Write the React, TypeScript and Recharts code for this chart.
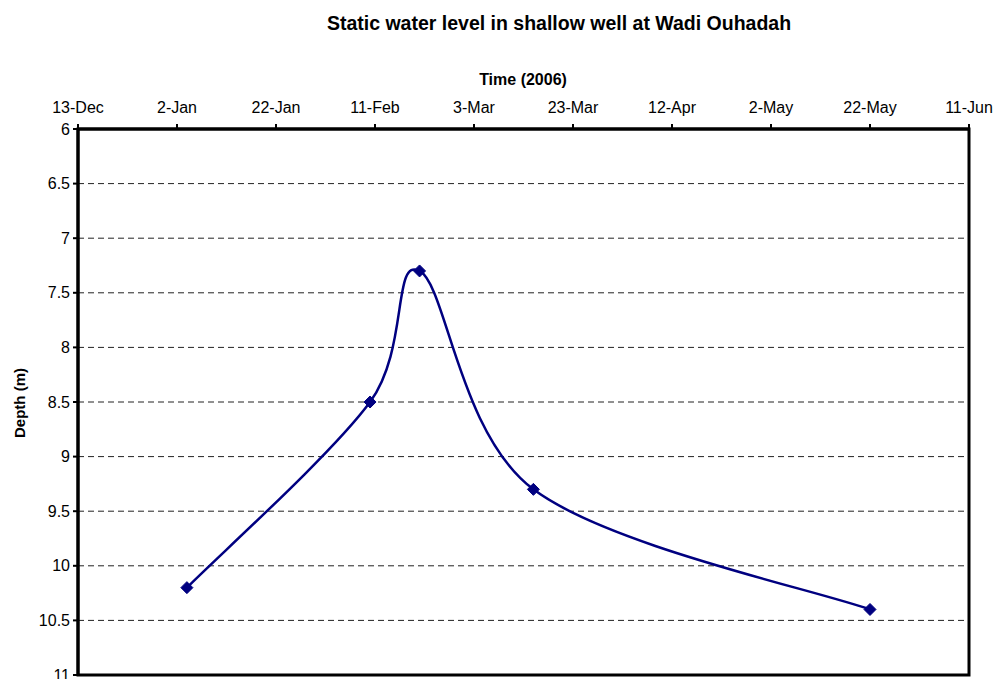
import { CartesianGrid, Line, LineChart, ReferenceArea, XAxis, YAxis } from 'recharts';

// measurement dates and static water depth (m)
const sampleDates = ['2006-01-04', '2006-02-10', '2006-02-20', '2006-03-15', '2006-05-22'];
const depths = [10.2, 8.5, 7.3, 9.3, 10.4];

const tickDates = [
    '2005-12-13', '2006-01-02', '2006-01-22', '2006-02-11', '2006-03-03',
    '2006-03-23', '2006-04-12', '2006-05-02', '2006-05-22', '2006-06-11'
];
const tickLabels = ['13-Dec', '2-Jan', '22-Jan', '11-Feb', '3-Mar', '23-Mar', '12-Apr', '2-May', '22-May', '11-Jun'];
const depthTicks = [6, 6.5, 7, 7.5, 8, 8.5, 9, 9.5, 10, 10.5, 11];

const toTime = (d: string) => Date.parse(d + 'T00:00:00Z');

const data = sampleDates.map((d, i) => ({ t: toTime(d), depth: depths[i] }));
const xTicks = tickDates.map(toTime);

const FONT = '"Liberation Sans", Arial, sans-serif';
const NAVY = '#000080';

// smoothed line like Excel's (Catmull-Rom through the points)
const smoothCurve = (context: any) => {
    let pts: [number, number][] = [];
    return {
        areaStart() {},
        areaEnd() {},
        lineStart() { pts = []; },
        lineEnd() {
            const n = pts.length;
            if (!n) return;
            context.moveTo(pts[0][0], pts[0][1]);
            for (let i = 0; i < n - 1; i++) {
                const p0 = pts[i - 1] || pts[i];
                const p1 = pts[i];
                const p2 = pts[i + 1];
                const p3 = pts[i + 2] || p2;
                context.bezierCurveTo(
                    p1[0] + (p2[0] - p0[0]) / 6, p1[1] + (p2[1] - p0[1]) / 6,
                    p2[0] - (p3[0] - p1[0]) / 6, p2[1] - (p3[1] - p1[1]) / 6,
                    p2[0], p2[1]
                );
            }
        },
        point(x: number, y: number) { pts.push([+x, +y]); }
    };
};

const Diamond = (props: any) => {
    const { cx, cy, index } = props;
    const s = 6;
    return (
        <polygon
            key={`d-${index}`}
            points={`${cx},${cy - s} ${cx + s},${cy} ${cx},${cy + s} ${cx - s},${cy}`}
            fill={NAVY}
            stroke={NAVY}
        />
    );
};

const textStyle = (x: number, y: number, size: number, rotate = false): React.CSSProperties => ({
    position: 'absolute',
    left: x,
    top: y,
    transform: `translate(-50%, -50%)${rotate ? ' rotate(-90deg)' : ''}`,
    fontFamily: FONT,
    fontSize: size,
    fontWeight: 'bold',
    whiteSpace: 'nowrap',
    color: '#000'
});

export default function App() {
    const tickFmt = (v: number) => tickLabels[xTicks.indexOf(v)] ?? '';
    return (
        <div style={{ position: 'absolute', left: 0, top: 0, width: 995, height: 679, background: '#fff' }}>
            <LineChart width={995} height={679} data={data} margin={{ top: 0, right: 26, bottom: 4, left: 0 }}>
                <CartesianGrid horizontal vertical={false} stroke="#222" strokeDasharray="6 4" />
                <XAxis
                    dataKey="t"
                    type="number"
                    orientation="top"
                    domain={[xTicks[0], xTicks[xTicks.length - 1]]}
                    ticks={xTicks}
                    tickFormatter={tickFmt}
                    height={129}
                    tickSize={5}
                    tickMargin={11}
                    axisLine={{ stroke: '#000', strokeWidth: 3 }}
                    tickLine={{ stroke: '#000', strokeWidth: 2 }}
                    tick={{ fill: '#000', fontSize: 16, fontFamily: FONT }}
                    interval={0}
                />
                <YAxis
                    dataKey="depth"
                    type="number"
                    reversed
                    domain={[6, 11]}
                    ticks={depthTicks}
                    width={78}
                    tickSize={5}
                    tickMargin={3}
                    axisLine={{ stroke: '#000', strokeWidth: 3 }}
                    tickLine={{ stroke: '#000', strokeWidth: 2 }}
                    tick={{ fill: '#000', fontSize: 16, fontFamily: FONT }}
                    interval={0}
                />
                <ReferenceArea
                    x1={xTicks[0]}
                    x2={xTicks[xTicks.length - 1]}
                    y1={6}
                    y2={11}
                    fill="none"
                    fillOpacity={0}
                    stroke="#000"
                    strokeWidth={3}
                />
                <Line
                    dataKey="depth"
                    type={smoothCurve as any}
                    stroke={NAVY}
                    strokeWidth={2.5}
                    dot={Diamond}
                    activeDot={false}
                    isAnimationActive={false}
                />
            </LineChart>
            <div style={textStyle(559, 23, 19.5)}>Static water level in shallow well at Wadi Ouhadah</div>
            <div style={textStyle(523, 80, 16)}>Time (2006)</div>
            <div style={textStyle(19, 403, 15, true)}>Depth (m)</div>
        </div>
    );
}
